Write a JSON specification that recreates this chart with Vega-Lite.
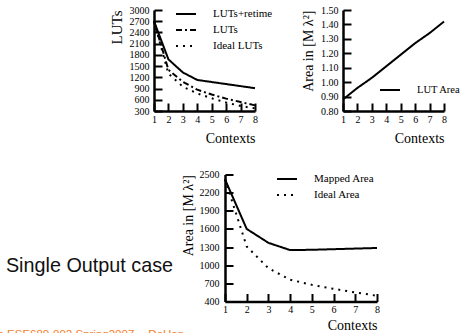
{
  "$schema": "https://vega.github.io/schema/vega-lite/v6.json",
  "background": "white",
  "padding": {"left": -23, "top": 3, "right": 0, "bottom": -5},
  "bounds": "full",
  "spacing": 22.5,
  "resolve": {"scale": {"strokeDash": "independent"}, "legend": {"strokeDash": "independent"}},
  "config": {
    "view": {"stroke": null},
    "font": "Liberation Serif",
    "axis": {
      "grid": false,
      "domainColor": "black",
      "domainWidth": 2.5,
      "tickColor": "black",
      "tickWidth": 2,
      "tickSize": -8,
      "labelFont": "Liberation Serif",
      "labelFontSize": 10,
      "labelColor": "black",
      "titleFont": "Liberation Serif",
      "titleFontSize": 14,
      "titleFontWeight": "normal",
      "titleColor": "black"
    },
    "axisX": {"titleAnchor": "end", "labelPadding": 11, "titlePadding": 7, "labelFlush": false},
    "axisY": {"titleAnchor": "end", "labelPadding": 13, "titlePadding": 5, "labelFlush": false},
    "legend": {
      "symbolType": "stroke",
      "symbolSize": 400,
      "symbolStrokeWidth": 2,
      "symbolStrokeColor": "black",
      "labelFont": "Liberation Serif",
      "labelFontSize": 11,
      "labelColor": "black",
      "labelOffset": 16,
      "padding": 0
    }
  },
  "vconcat": [
    {
      "bounds": "flush",
      "spacing": 88,
      "resolve": {"scale": {"strokeDash": "independent"}, "legend": {"strokeDash": "independent"}},
      "hconcat": [
        {
          "width": 59,
          "height": 101,
          "data": {"values": []},
          "mark": "point"
        },
        {
          "width": 101,
          "height": 101,
          "data": {
            "values": [
              {"contexts": 1, "luts": 2700, "series": "LUTs+retime"},
              {"contexts": 2, "luts": 1680, "series": "LUTs+retime"},
              {"contexts": 3, "luts": 1330, "series": "LUTs+retime"},
              {"contexts": 4, "luts": 1130, "series": "LUTs+retime"},
              {"contexts": 5, "luts": 1075, "series": "LUTs+retime"},
              {"contexts": 6, "luts": 1020, "series": "LUTs+retime"},
              {"contexts": 7, "luts": 965, "series": "LUTs+retime"},
              {"contexts": 8, "luts": 910, "series": "LUTs+retime"},
              {"contexts": 1, "luts": 2700, "series": "LUTs"},
              {"contexts": 2, "luts": 1400, "series": "LUTs"},
              {"contexts": 3, "luts": 1080, "series": "LUTs"},
              {"contexts": 4, "luts": 870, "series": "LUTs"},
              {"contexts": 5, "luts": 740, "series": "LUTs"},
              {"contexts": 6, "luts": 630, "series": "LUTs"},
              {"contexts": 7, "luts": 540, "series": "LUTs"},
              {"contexts": 8, "luts": 450, "series": "LUTs"},
              {"contexts": 1, "luts": 2700, "series": "Ideal LUTs"},
              {"contexts": 2, "luts": 1300, "series": "Ideal LUTs"},
              {"contexts": 3, "luts": 950, "series": "Ideal LUTs"},
              {"contexts": 4, "luts": 770, "series": "Ideal LUTs"},
              {"contexts": 5, "luts": 640, "series": "Ideal LUTs"},
              {"contexts": 6, "luts": 525, "series": "Ideal LUTs"},
              {"contexts": 7, "luts": 435, "series": "Ideal LUTs"},
              {"contexts": 8, "luts": 370, "series": "Ideal LUTs"}
            ]
          },
          "mark": {"type": "line", "color": "black", "strokeWidth": 2},
          "encoding": {
            "x": {
              "field": "contexts", "type": "quantitative",
              "scale": {"domain": [1, 8], "nice": false, "zero": false},
              "axis": {"title": "Contexts", "values": [1, 2, 3, 4, 5, 6, 7, 8], "format": "d"}
            },
            "y": {
              "field": "luts", "type": "quantitative",
              "scale": {"domain": [300, 3000], "nice": false, "zero": false},
              "axis": {"title": "LUTs", "titleFontSize": 15, "values": [300, 600, 900, 1200, 1500, 1800, 2100, 2400, 2700, 3000], "format": "d"}
            },
            "strokeDash": {
              "field": "series", "type": "nominal",
              "scale": {"domain": ["LUTs+retime", "LUTs", "Ideal LUTs"], "range": [[1, 0], [6, 3, 2, 3], [2, 5]]},
              "legend": {"title": null, "orient": "none", "legendX": 21, "legendY": -7, "rowPadding": 0}
            }
          }
        },
        {
          "width": 101,
          "height": 101,
          "data": {
            "values": [
              {"contexts": 1, "area": 0.88, "series": "LUT Area"},
              {"contexts": 2, "area": 0.96, "series": "LUT Area"},
              {"contexts": 3, "area": 1.03, "series": "LUT Area"},
              {"contexts": 4, "area": 1.11, "series": "LUT Area"},
              {"contexts": 5, "area": 1.19, "series": "LUT Area"},
              {"contexts": 6, "area": 1.27, "series": "LUT Area"},
              {"contexts": 7, "area": 1.34, "series": "LUT Area"},
              {"contexts": 8, "area": 1.42, "series": "LUT Area"}
            ]
          },
          "mark": {"type": "line", "color": "black", "strokeWidth": 2},
          "encoding": {
            "x": {
              "field": "contexts", "type": "quantitative",
              "scale": {"domain": [1, 8], "nice": false, "zero": false},
              "axis": {"title": "Contexts", "values": [1, 2, 3, 4, 5, 6, 7, 8], "format": "d"}
            },
            "y": {
              "field": "area", "type": "quantitative",
              "scale": {"domain": [0.8, 1.5], "nice": false, "zero": false},
              "axis": {"title": "Area in [M λ²]", "values": [0.8, 0.9, 1.0, 1.1, 1.2, 1.3, 1.4, 1.5], "format": ".2f"}
            },
            "strokeDash": {
              "field": "series", "type": "nominal",
              "scale": {"domain": ["LUT Area"], "range": [[1, 0]]},
              "legend": {"title": null, "orient": "none", "legendX": 36, "legendY": 69, "labelFontSize": 10.5}
            }
          }
        }
      ]
    },
    {
      "bounds": "flush",
      "spacing": 53,
      "resolve": {"scale": {"strokeDash": "independent"}, "legend": {"strokeDash": "independent"}},
      "hconcat": [
        {
          "width": 165,
          "height": 127,
          "title": {
            "text": "Penn ESE680-002 Spring2007 -- DeHon",
            "orient": "bottom",
            "anchor": "start",
            "frame": "group",
            "dx": -30,
            "offset": 27,
            "baseline": "top",
            "font": "Liberation Sans",
            "fontSize": 11.5,
            "fontWeight": "normal",
            "color": "#f5802a"
          },
          "data": {"values": [{"label": "Single Output case"}]},
          "mark": {"type": "text", "font": "Liberation Sans", "fontSize": 19.8, "color": "#111111", "dy": 28},
          "encoding": {"text": {"field": "label"}}
        },
        {
          "width": 152,
          "height": 127,
          "data": {
            "values": [
              {"contexts": 1, "area": 2420, "series": "Mapped Area"},
              {"contexts": 2, "area": 1600, "series": "Mapped Area"},
              {"contexts": 3, "area": 1370, "series": "Mapped Area"},
              {"contexts": 4, "area": 1250, "series": "Mapped Area"},
              {"contexts": 5, "area": 1255, "series": "Mapped Area"},
              {"contexts": 6, "area": 1265, "series": "Mapped Area"},
              {"contexts": 7, "area": 1275, "series": "Mapped Area"},
              {"contexts": 8, "area": 1285, "series": "Mapped Area"},
              {"contexts": 1, "area": 2420, "series": "Ideal Area"},
              {"contexts": 2, "area": 1310, "series": "Ideal Area"},
              {"contexts": 3, "area": 950, "series": "Ideal Area"},
              {"contexts": 4, "area": 760, "series": "Ideal Area"},
              {"contexts": 5, "area": 675, "series": "Ideal Area"},
              {"contexts": 6, "area": 610, "series": "Ideal Area"},
              {"contexts": 7, "area": 550, "series": "Ideal Area"},
              {"contexts": 8, "area": 495, "series": "Ideal Area"}
            ]
          },
          "mark": {"type": "line", "color": "black", "strokeWidth": 2},
          "encoding": {
            "x": {
              "field": "contexts", "type": "quantitative",
              "scale": {"domain": [1, 8], "nice": false, "zero": false},
              "axis": {"title": "Contexts", "values": [1, 2, 3, 4, 5, 6, 7, 8], "format": "d", "titlePadding": 4}
            },
            "y": {
              "field": "area", "type": "quantitative",
              "scale": {"domain": [400, 2500], "nice": false, "zero": false},
              "axis": {"title": "Area in [M λ²]", "values": [400, 700, 1000, 1300, 1600, 1900, 2200, 2500], "format": "d", "labelPadding": 14, "titlePadding": 4}
            },
            "strokeDash": {
              "field": "series", "type": "nominal",
              "scale": {"domain": ["Mapped Area", "Ideal Area"], "range": [[1, 0], [2, 5]]},
              "legend": {"title": null, "orient": "none", "legendX": 51, "legendY": -6.5, "rowPadding": 0}
            }
          }
        }
      ]
    }
  ]
}
